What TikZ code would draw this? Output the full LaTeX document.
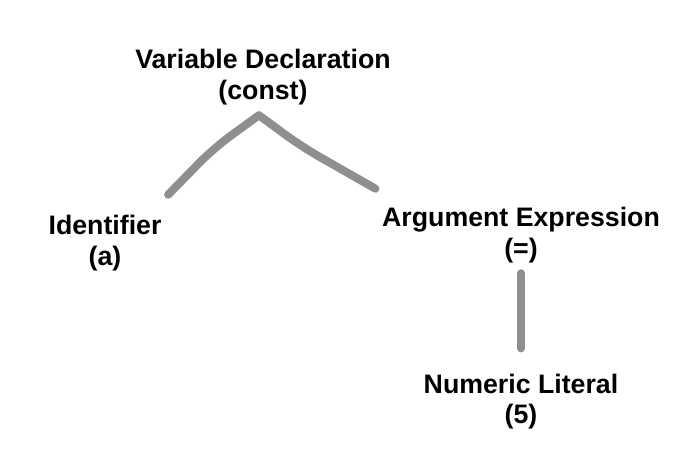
\documentclass[tikz,border=0pt]{standalone}
\usepackage{fontspec}
\setmainfont{Liberation Sans}
\usetikzlibrary{positioning}
\definecolor{branchgray}{gray}{0.56}

\begin{document}
\begin{tikzpicture}[
        x=0.01cm, y=0.01cm,
        node distance=1.1cm,
        % 構文木のノード
        astnode/.style={inner sep=0pt, align=center, font=\fontsize{7.6}{8.6}\selectfont\bfseries},
        % 手描き風の枝
        branch/.style={draw=branchgray, line width=2.3pt, line cap=round, line join=round, rounded corners=6pt}
    ]
    \useasboundingbox (0,0) rectangle (698,470);

    % ノードの定義と配置
    \node[astnode] (decl) at (263,393) {Variable Declaration\\(const)};
    \node[astnode] (ident) at (105,227) {Identifier\\(a)};
    \node[astnode] (arg) at (521,235) {Argument Expression\\(=)};
    \node[astnode, below=of arg] (num) {Numeric Literal\\(5)};

    % 枝の端点
    \coordinate (peak) at ([xshift=-0.04cm, yshift=-0.10cm]decl.south);
    \coordinate (ident_end) at ([xshift=0.06cm, yshift=0.20cm]ident.north east);
    \coordinate (arg_end) at ([xshift=-0.06cm, yshift=0.18cm]arg.north west);
    \coordinate (arg_foot) at ([yshift=-0.10cm]arg.south);
    \coordinate (num_head) at ([yshift=0.25cm]num.north);

    % 枝の描画
    \draw[branch] (ident_end) -- ++(46,47) -- (peak);
    \draw[branch] (peak) -- ++(42,-31) -- (arg_end);
    \draw[branch] (arg_foot) -- (num_head);

\end{tikzpicture}
\end{document}
